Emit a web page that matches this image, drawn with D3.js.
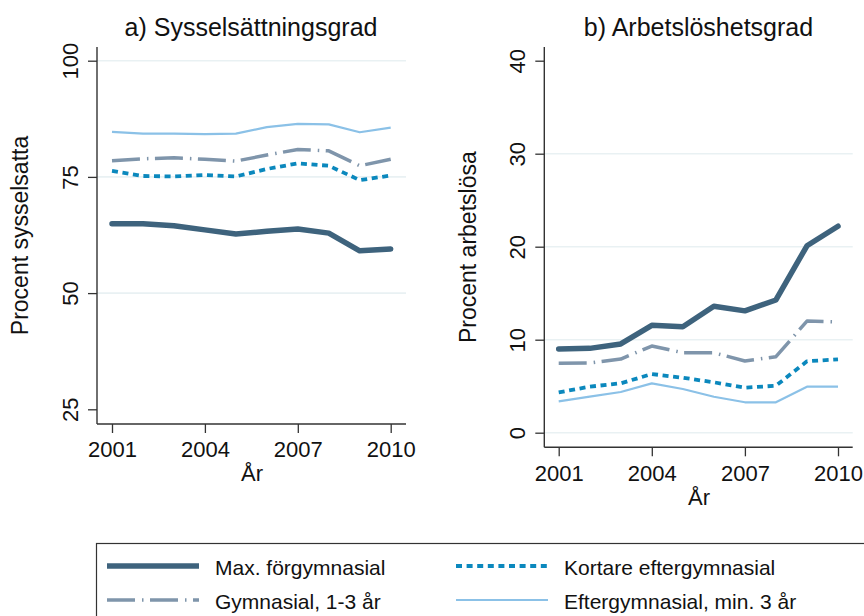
<!DOCTYPE html>
<html>
<head>
<meta charset="utf-8">
<script src="https://cdn.jsdelivr.net/npm/d3@7"></script>
<style>
  body { margin: 0; background: #ffffff; }
  svg { display: block; font-family: "Liberation Sans", Arial, Helvetica, sans-serif; }
  .tick-label { font-size: 22px; fill: #111111; }
  .panel-title { font-size: 25px; fill: #111111; }
  .axis-title { font-size: 23px; fill: #111111; }
  .legend-text { font-size: 21px; fill: #111111; }
</style>
</head>
<body>
<div id="chart"></div>
<script>
// Data
var years = [2001, 2002, 2003, 2004, 2005, 2006, 2007, 2008, 2009, 2010];

var series_names = [
  "Max. förgymnasial",
  "Gymnasial, 1-3 år",
  "Kortare eftergymnasial",
  "Eftergymnasial, min. 3 år"
];

// a) Sysselsättningsgrad (percent employed)
var emp_max_forgym = [64.9, 64.9, 64.5, 63.6, 62.7, 63.3, 63.8, 62.9, 59.1, 59.5];
var emp_gym = [78.5, 78.9, 79.1, 78.8, 78.4, 79.7, 80.9, 80.6, 77.4, 78.8];
var emp_kort_efter = [76.3, 75.2, 75.1, 75.4, 75.1, 76.7, 77.9, 77.4, 74.3, 75.3];
var emp_efter_3 = [84.7, 84.3, 84.3, 84.2, 84.3, 85.7, 86.4, 86.3, 84.6, 85.6];

// b) Arbetslöshetsgrad (percent unemployed)
var unemp_max_forgym = [9.0, 9.07, 9.54, 11.55, 11.4, 13.6, 13.1, 14.27, 20.1, 22.2];
var unemp_gym = [7.46, 7.5, 7.92, 9.32, 8.6, 8.6, 7.71, 8.17, 12.0, 11.9];
var unemp_kort_efter = [4.34, 4.95, 5.31, 6.31, 5.91, 5.42, 4.84, 5.05, 7.68, 7.89];
var unemp_efter_3 = [3.37, 3.87, 4.38, 5.31, 4.7, 3.87, 3.27, 3.27, 4.95, 4.95];

var x_ticks = [2001, 2004, 2007, 2010];
var emp_ticks = [25, 50, 75, 100];
var emp_grid = [50, 75, 100];
var unemp_ticks = [0, 10, 20, 30, 40];
var unemp_grid = [0, 10, 20, 30];

// Line styles per series
var styles = [
  { color: "#3e637d", width: 5.5, dash: null, cap: "round" },
  { color: "#7f95ab", width: 3.5, dash: "28,7,1.5,6.5", cap: "butt" },
  { color: "#0b88bd", width: 3.8, dash: "6,4.6", cap: "butt" },
  { color: "#8bc1e7", width: 2.2, dash: null, cap: "butt" }
];

var width = 864,
  height = 616;

var svg = d3
  .select("#chart")
  .append("svg")
  .attr("width", width)
  .attr("height", height)
  .attr("viewBox", [0, 0, width, height]);

svg.append("rect").attr("width", width).attr("height", height).attr("fill", "#ffffff");

var axis_color = "#333333";

function draw_panel(p) {
  var x = d3.scaleLinear().domain([2001, 2010]).range(p.x_range);
  var y = d3.scaleLinear().domain(p.y_domain).range(p.y_range);

  var g = svg.append("g");

  // Grid lines
  g.selectAll(".grid")
    .data(p.grid)
    .enter()
    .append("line")
    .attr("x1", p.left)
    .attr("x2", p.right)
    .attr("y1", (d) => y(d))
    .attr("y2", (d) => y(d))
    .attr("stroke", "#e9f1f3")
    .attr("stroke-width", 1.6);

  // Series lines
  var line = d3
    .line()
    .x((d, i) => x(years[i]))
    .y((d) => y(d));

  p.series.forEach(function (s, i) {
    var st = styles[i];
    g.append("path")
      .datum(s)
      .attr("d", line)
      .attr("fill", "none")
      .attr("stroke", st.color)
      .attr("stroke-width", st.width)
      .attr("stroke-linecap", st.cap)
      .attr("stroke-linejoin", "round")
      .attr("stroke-dasharray", st.dash);
  });

  // Y axis
  var y_axis = g
    .append("g")
    .attr("transform", "translate(" + p.left + ",0)")
    .call(d3.axisLeft(y).tickValues(p.ticks).tickSize(9).tickSizeOuter(0));
  y_axis.select(".domain").remove();
  y_axis.selectAll(".tick line").attr("stroke", axis_color).attr("stroke-width", 1.3);
  y_axis
    .selectAll(".tick text")
    .attr("class", "tick-label")
    .attr("transform", "rotate(-90)")
    .attr("x", 0)
    .attr("y", -19)
    .attr("dy", 0)
    .attr("text-anchor", "middle")
    .attr("fill", "#111111");

  // X axis
  var x_axis = g
    .append("g")
    .attr("transform", "translate(0," + p.bottom + ")")
    .call(d3.axisBottom(x).tickValues(x_ticks).tickFormat(d3.format("d")).tickSize(9).tickSizeOuter(0));
  x_axis.select(".domain").remove();
  x_axis.selectAll(".tick line").attr("stroke", axis_color).attr("stroke-width", 1.3);
  x_axis
    .selectAll(".tick text")
    .attr("class", "tick-label")
    .attr("y", p.xlab_offset)
    .attr("dy", 0)
    .attr("fill", "#111111");

  // Axis lines
  g.append("line")
    .attr("x1", p.left)
    .attr("x2", p.left)
    .attr("y1", p.top)
    .attr("y2", p.bottom)
    .attr("stroke", axis_color)
    .attr("stroke-width", 1.4);
  g.append("line")
    .attr("x1", p.left)
    .attr("x2", p.right)
    .attr("y1", p.bottom)
    .attr("y2", p.bottom)
    .attr("stroke", axis_color)
    .attr("stroke-width", 1.4);

  // Titles
  g.append("text")
    .attr("class", "panel-title")
    .attr("x", p.title_x)
    .attr("y", 36)
    .attr("text-anchor", "middle")
    .text(p.title);

  g.append("text")
    .attr("class", "axis-title")
    .attr("transform", "translate(" + p.ytitle_x + "," + (p.top + p.bottom) / 2 + ") rotate(-90)")
    .attr("text-anchor", "middle")
    .text(p.ytitle);

  g.append("text")
    .attr("class", "tick-label")
    .attr("x", (p.left + p.right) / 2 + 0.5)
    .attr("y", p.xtitle_y)
    .attr("text-anchor", "middle")
    .text("År");
}

draw_panel({
  title: "a) Sysselsättningsgrad",
  ytitle: "Procent sysselsatta",
  series: [emp_max_forgym, emp_gym, emp_kort_efter, emp_efter_3],
  ticks: emp_ticks,
  grid: emp_grid,
  y_domain: [25, 100],
  y_range: [409.3, 60.7],
  x_range: [112, 390.7],
  left: 97,
  right: 406,
  top: 47,
  bottom: 424,
  xlab_offset: 32.5,
  title_x: 251,
  ytitle_x: 28,
  xtitle_y: 481
});

draw_panel({
  title: "b) Arbetslöshetsgrad",
  ytitle: "Procent arbetslösa",
  series: [unemp_max_forgym, unemp_gym, unemp_kort_efter, unemp_efter_3],
  ticks: unemp_ticks,
  grid: unemp_grid,
  y_domain: [0, 40],
  y_range: [432.7, 60.7],
  x_range: [558.7, 838],
  left: 544.3,
  right: 852.7,
  top: 47,
  bottom: 447.3,
  xlab_offset: 33.5,
  title_x: 698.5,
  ytitle_x: 476,
  xtitle_y: 505
});

// Legend
var legend = svg.append("g");

legend
  .append("rect")
  .attr("x", 96.5)
  .attr("y", 543.5)
  .attr("width", 800)
  .attr("height", 120)
  .attr("fill", "#ffffff")
  .attr("stroke", axis_color)
  .attr("stroke-width", 1.2);

var legend_pos = [
  { lx: 107, ly: 566 },
  { lx: 107, ly: 600 },
  { lx: 456, ly: 566 },
  { lx: 456, ly: 600 }
];

var legend_items = legend
  .selectAll(".legend-item")
  .data(series_names)
  .enter()
  .append("g")
  .attr("transform", (d, i) => "translate(" + legend_pos[i].lx + "," + legend_pos[i].ly + ")");

legend_items
  .append("line")
  .attr("x1", 0)
  .attr("x2", 92)
  .attr("y1", 0)
  .attr("y2", 0)
  .attr("stroke", (d, i) => styles[i].color)
  .attr("stroke-width", (d, i) => styles[i].width)
  .attr("stroke-dasharray", (d, i) => styles[i].dash);

legend_items
  .append("text")
  .attr("class", "legend-text")
  .attr("x", 108)
  .attr("y", 8.5)
  .text((d) => d);
</script>
</body>
</html>
